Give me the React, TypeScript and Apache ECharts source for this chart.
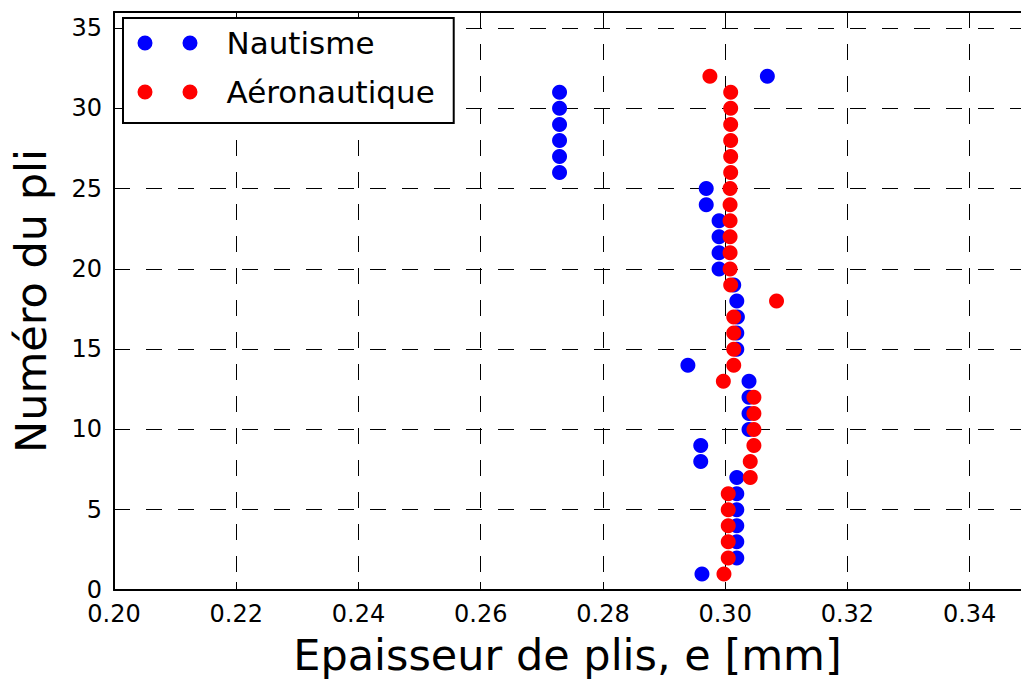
import React, { useEffect, useRef } from "react";
import * as echarts from "echarts";

// Ply number (y)
const plis = [1, 2, 3, 4, 5, 6, 7, 8, 9, 10, 11, 12, 13, 14, 15, 16, 17, 18, 19, 20, 21, 22, 23, 24, 25, 26, 27, 28, 29, 30, 31, 32];
// Ply thickness [mm] (x)
const nautisme = [
  0.2962, 0.3019, 0.3019, 0.3019, 0.3019, 0.3019, 0.3019, 0.2960, 0.2960, 0.3039,
  0.3039, 0.3039, 0.3039, 0.2939, 0.3019, 0.3019, 0.3020, 0.3019, 0.3014, 0.2990,
  0.2990, 0.2990, 0.2990, 0.2969, 0.2969, 0.2729, 0.2729, 0.2729, 0.2729, 0.2729,
  0.2729, 0.3069,
];
const aeronautique = [
  0.2998, 0.3005, 0.3005, 0.3005, 0.3005, 0.3005, 0.3041, 0.3041, 0.3047, 0.3047,
  0.3047, 0.3047, 0.2997, 0.3014, 0.3014, 0.3014, 0.3014, 0.3084, 0.3009, 0.3008,
  0.3008, 0.3008, 0.3008, 0.3008, 0.3008, 0.3009, 0.3009, 0.3009, 0.3009, 0.3009,
  0.3009, 0.2975,
];
const seriesNames = ["Nautisme", "Aéronautique"];
const xMin = 0.2;
const xMax = 0.3484;
const xStep = 0.02;
const yMin = 0;
const yMax = 36;
const yStep = 5;

const FONT = "DejaVu Sans";
const twoDots =
  "path://M0,7.5a7.5,7.5 0 1,0 15,0a7.5,7.5 0 1,0 -15,0Z M45,7.5a7.5,7.5 0 1,0 15,0a7.5,7.5 0 1,0 -15,0Z";

export default function App() {
  const ref = useRef<HTMLDivElement>(null);
  useEffect(() => {
    if (!ref.current) return;
    const chart = echarts.init(ref.current, undefined, { renderer: "svg" });
    const axisLine = { show: true, onZero: false, lineStyle: { color: "#000", width: 2 } };
    const axisTick = { show: true, inside: true, length: 8, lineStyle: { color: "#000", width: 1 } };
    const splitLine = { show: true, lineStyle: { color: "#000", width: 1, type: [16, 16] as any } };
    chart.setOption({
      animation: false,
      backgroundColor: "#fff",
      textStyle: { fontFamily: FONT, color: "#000" },
      grid: { left: 114, top: 12, right: 0, bottom: 89, containLabel: false },
      legend: {
        orient: "vertical",
        left: 123,
        top: 18,
        padding: [7, 19, 13, 14.5],
        itemGap: 13,
        itemWidth: 60,
        itemHeight: 15,
        icon: twoDots,
        backgroundColor: "#fff",
        borderColor: "#000",
        borderWidth: 2,
        borderRadius: 0,
        data: seriesNames,
        textStyle: { fontFamily: FONT, fontSize: 31, color: "#000", lineHeight: 36, padding: [0, 0, 0, 24] },
      },
      xAxis: [
        {
          type: "value",
          min: xMin,
          max: xMax,
          interval: xStep,
          position: "bottom",
          name: "Epaisseur de plis, e [mm]",
          nameLocation: "middle",
          nameGap: 43,
          nameTextStyle: { fontFamily: FONT, fontSize: 43, color: "#000" },
          axisLine,
          axisTick,
          splitLine,
          axisLabel: {
            showMaxLabel: false,
            margin: 14,
            lineHeight: 20,
            fontFamily: FONT,
            fontSize: 24,
            color: "#000",
            formatter: (v: number) => v.toFixed(2),
          },
        },
        {
          type: "value",
          min: xMin,
          max: xMax,
          interval: xStep,
          position: "top",
          axisLine,
          axisTick,
          splitLine: { show: false },
          axisLabel: { show: false },
        },
      ],
      yAxis: {
        type: "value",
        min: yMin,
        max: yMax,
        interval: yStep,
        name: "Numéro du pli",
        nameLocation: "middle",
        nameGap: 62,
        nameTextStyle: { fontFamily: FONT, fontSize: 43, color: "#000" },
        axisLine,
        axisTick,
        splitLine,
        axisLabel: {
          showMaxLabel: false,
          margin: 12,
          lineHeight: 18,
          fontFamily: FONT,
          fontSize: 24,
          color: "#000",
        },
      },
      series: [
        {
          name: seriesNames[0],
          type: "scatter",
          xAxisIndex: 0,
          symbolSize: 15,
          itemStyle: { color: "#0000ff", opacity: 1 },
          data: plis.map((p, i) => [nautisme[i], p]),
        },
        {
          name: seriesNames[1],
          type: "scatter",
          xAxisIndex: 0,
          symbolSize: 15,
          itemStyle: { color: "#ff0000", opacity: 1 },
          data: plis.map((p, i) => [aeronautique[i], p]),
        },
      ],
    });
    return () => chart.dispose();
  }, []);
  return (
    <div
      ref={ref}
      style={{ position: "fixed", left: 0, top: 0, width: 1021, height: 681, background: "#fff" }}
    />
  );
}
